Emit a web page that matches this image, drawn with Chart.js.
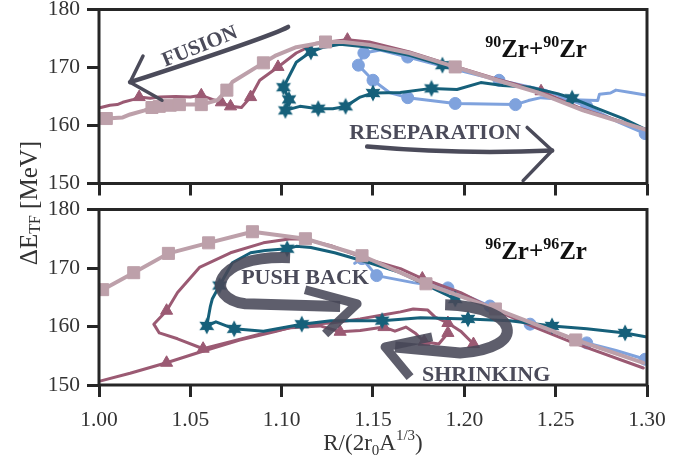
<!DOCTYPE html>
<html>
<head>
<meta charset="utf-8">
<script src="https://cdn.jsdelivr.net/npm/chart.js@4.4.1/dist/chart.umd.min.js"></script>
<style>
  html, body { margin: 0; padding: 0; background: #fff; }
  #wrap { position: relative; width: 696px; height: 459px; }
  #wrap canvas { position: absolute; left: 0; top: 0; }
</style>
</head>
<body>
<div id="wrap">
  <canvas id="panelTop" width="696" height="459"></canvas>
  <canvas id="panelBottom" width="696" height="459"></canvas>
</div>
<script>
// axis ticks
const X_TICKS = [1.00, 1.05, 1.10, 1.15, 1.20, 1.25, 1.30];
const Y_TICKS = [150, 160, 170, 180];

// 90Zr+90Zr trajectories
const sq90X = [1.004, 1.013, 1.017, 1.025, 1.029, 1.033, 1.039, 1.044, 1.056, 1.065, 1.070, 1.073, 1.090, 1.097, 1.108, 1.124, 1.134, 1.148, 1.170, 1.195, 1.218, 1.240, 1.265, 1.300];
const sq90Y = [161.2, 161.4, 161.9, 162.6, 163.1, 163.3, 163.5, 163.6, 163.6, 164.4, 166.1, 167.5, 170.8, 172.1, 173.5, 174.4, 174.4, 173.9, 172.5, 170.1, 167.8, 165.7, 162.6, 159.2];
const sq90Marks = [0, 4, 5, 6, 7, 8, 10, 12, 15, 19];

const tri90X = [1.001, 1.006, 1.010, 1.013, 1.019, 1.022, 1.028, 1.033, 1.042, 1.050, 1.056, 1.062, 1.067, 1.072, 1.078, 1.083, 1.088, 1.098, 1.108, 1.119, 1.136, 1.148, 1.170, 1.195, 1.218, 1.242, 1.265, 1.300];
const tri90Y = [163.1, 163.5, 163.6, 164.0, 164.5, 164.9, 164.7, 164.9, 165.0, 164.9, 165.2, 164.5, 164.0, 163.3, 163.1, 164.9, 167.8, 170.1, 172.5, 174.2, 174.8, 174.4, 172.7, 170.2, 168.0, 165.9, 162.8, 159.2];
const tri90Marks = [5, 10, 12, 13, 15, 17, 20, 25];

const star90X = [1.188, 1.170, 1.148, 1.132, 1.123, 1.116, 1.108, 1.101, 1.104, 1.102, 1.110, 1.120, 1.128, 1.135, 1.143, 1.150, 1.165, 1.182, 1.196, 1.209, 1.221, 1.236, 1.251, 1.259, 1.266, 1.273, 1.287, 1.298];
const star90Y = [170.4, 172.1, 173.5, 174.0, 173.5, 172.7, 170.9, 166.6, 164.5, 162.6, 163.3, 162.9, 162.9, 163.3, 164.9, 165.6, 165.7, 166.4, 166.2, 167.4, 166.9, 166.6, 165.5, 164.7, 163.8, 162.9, 161.2, 159.5];
const star90Marks = [0, 5, 7, 8, 9, 11, 13, 15, 17, 23];

const circ90X = [1.299, 1.285, 1.267, 1.244, 1.219, 1.192, 1.169, 1.154, 1.145, 1.142, 1.150, 1.159, 1.169, 1.195, 1.228, 1.235, 1.242, 1.255, 1.273, 1.274, 1.280, 1.283, 1.291, 1.300];
const circ90Y = [158.6, 160.5, 163.3, 166.1, 167.8, 169.9, 171.8, 173.0, 172.5, 170.4, 167.8, 165.7, 164.8, 163.8, 163.6, 164.3, 164.8, 164.5, 164.3, 165.4, 165.6, 166.1, 165.7, 165.2];
const circ90Marks = [0, 2, 4, 6, 8, 9, 10, 12, 13, 14];

// 96Zr+96Zr trajectories
const sq96X = [1.002, 1.019, 1.038, 1.060, 1.084, 1.113, 1.144, 1.179, 1.217, 1.261, 1.298];
const sq96Y = [166.3, 169.2, 172.5, 174.3, 176.2, 175.0, 172.1, 167.3, 163.0, 157.7, 153.8];
const sq96Marks = [0, 1, 2, 3, 4, 5, 6, 7, 8, 9];

// outer loop, coming in from large R
const triLoop96X = [1.298, 1.258, 1.239, 1.217, 1.198, 1.177, 1.165, 1.148, 1.127, 1.113, 1.105, 1.090, 1.072, 1.055, 1.043, 1.037, 1.030, 1.033, 1.043, 1.057, 1.072, 1.088, 1.105, 1.121, 1.132, 1.143, 1.156, 1.162, 1.168, 1.173, 1.178, 1.186, 1.191];
const triLoop96Y = [152.9, 157.4, 159.8, 162.8, 165.8, 168.2, 169.9, 171.4, 173.8, 174.9, 175.0, 174.3, 172.6, 170.1, 165.8, 162.7, 160.4, 158.9, 157.9, 156.2, 157.4, 158.7, 159.8, 160.1, 159.1, 159.3, 159.9, 159.2, 159.9, 158.9, 157.4, 157.0, 158.9];
const triLoop96Marks = [5, 15, 19, 24, 26, 30, 32];

// inner branch from R = 1.0
const triIn96X = [1.001, 1.017, 1.037, 1.055, 1.077, 1.097, 1.110, 1.127, 1.143, 1.156, 1.165, 1.172, 1.180, 1.184, 1.191, 1.198, 1.205];
const triIn96Y = [150.7, 152.0, 153.8, 155.6, 157.7, 159.2, 160.3, 160.6, 161.3, 162.0, 162.5, 163.0, 162.8, 161.6, 160.6, 159.2, 157.0];
const triIn96Marks = [2, 14, 16];

const star96X = [1.195, 1.179, 1.165, 1.148, 1.129, 1.116, 1.108, 1.103, 1.091, 1.083, 1.073, 1.066, 1.062, 1.061, 1.059, 1.064, 1.074, 1.090, 1.111, 1.127, 1.155, 1.176, 1.202, 1.225, 1.248, 1.267, 1.288, 1.300];
const star96Y = [164.7, 167.1, 169.2, 170.9, 172.6, 173.5, 173.7, 173.3, 173.0, 172.6, 170.9, 167.0, 164.7, 163.5, 160.1, 160.8, 159.6, 159.2, 160.4, 161.0, 161.0, 161.5, 161.3, 161.0, 160.1, 159.6, 158.9, 158.2];
const star96Marks = [0, 7, 11, 14, 16, 18, 20, 22, 24, 26];

const circ96X = [1.140, 1.144, 1.152, 1.172, 1.191, 1.214, 1.236, 1.267, 1.283, 1.299];
const circ96Y = [170.8, 171.6, 168.7, 167.5, 166.6, 163.5, 160.4, 157.2, 155.9, 154.4];
const circ96Marks = [1, 2, 4, 5, 6, 7, 9];

const TEAL = '#16607a', SKY = '#7fa2dd', PLUM = '#9b5a73', ROSE = '#bda0aa';
const INK = '#4b4b5a', AXIS = '#262626', SERIF = '"Liberation Serif", "Times New Roman", serif';
const PLOT_LEFT = 99, PLOT_RIGHT = 647;

function starImage(color) {
  const c = document.createElement('canvas');
  c.width = c.height = 18;
  const g = c.getContext('2d');
  g.fillStyle = color;
  g.beginPath();
  for (let i = 0; i < 12; i++) {
    const r = i % 2 ? 4.6 : 8.6;
    const a = -Math.PI / 2 + i * Math.PI / 6;
    g.lineTo(9 + r * Math.cos(a), 9 + r * Math.sin(a));
  }
  g.closePath();
  g.fill();
  return c;
}
const STAR = starImage(TEAL);

function series(xs, ys, marks, color, style, radius, width) {
  return {
    data: xs.map((x, i) => ({ x, y: ys[i] })),
    showLine: true,
    borderColor: color,
    backgroundColor: color,
    borderWidth: width,
    borderJoinStyle: 'round',
    borderCapStyle: 'round',
    tension: 0,
    pointStyle: style,
    pointRadius: ctx => marks.includes(ctx.dataIndex) ? radius : 0,
    pointBorderWidth: 1,
    pointBorderColor: color,
    pointBackgroundColor: color,
  };
}

function rich(ctx, x, y, parts, align) {
  // parts: [text, size, rise, bold]
  const fontOf = p => `${p[3] ? 'bold ' : ''}${p[1]}px ${SERIF}`;
  let w = 0;
  parts.forEach(p => { ctx.font = fontOf(p); w += ctx.measureText(p[0]).width; });
  let cx = align === 'center' ? x - w / 2 : x;
  ctx.textAlign = 'left';
  parts.forEach(p => {
    ctx.font = fontOf(p);
    ctx.fillText(p[0], cx, y - p[2]);
    cx += ctx.measureText(p[0]).width;
  });
}

function pixelFn(chart) {
  const xs = chart.scales.x, ys = chart.scales.y;
  return (u, v) => [xs.getPixelForValue(u), ys.getPixelForValue(v)];
}

function strokeLines(ctx, pts) {
  ctx.beginPath();
  ctx.moveTo(pts[0][0], pts[0][1]);
  pts.slice(1).forEach(q => ctx.lineTo(q[0], q[1]));
  ctx.stroke();
}

function notesTop(chart) {
  const ctx = chart.ctx, p = pixelFn(chart);
  ctx.save();
  ctx.fillStyle = INK;
  ctx.strokeStyle = INK;
  ctx.lineCap = 'round';
  ctx.lineJoin = 'round';

  // FUSION arrow pointing to small R
  let a = p(1.1035, 177.0), c = p(1.0936, 175.3), t = p(1.0170, 167.47);
  ctx.lineWidth = 4.5;
  ctx.beginPath(); ctx.moveTo(a[0], a[1]); ctx.quadraticCurveTo(c[0], c[1], t[0], t[1]); ctx.stroke();
  ctx.lineWidth = 3.5;
  strokeLines(ctx, [p(1.0241, 171.97), t, p(1.0345, 164.35)]);
  const f = p(1.0553, 173.54);
  ctx.save();
  ctx.translate(f[0], f[1]);
  ctx.rotate(-22 * Math.PI / 180);
  ctx.textBaseline = 'middle';
  rich(ctx, 0, 0, [['FUSION', 21, 0, true]], 'center');
  ctx.restore();

  // RESEPARATION arrow pointing to large R
  ctx.textBaseline = 'middle';
  const r = p(1.1840, 158.63);
  rich(ctx, r[0], r[1], [['RESEPARATION', 22, 0, true]], 'center');
  a = p(1.1468, 156.36); c = p(1.1977, 154.97); t = p(1.2481, 155.68);
  ctx.lineWidth = 4.5;
  ctx.beginPath(); ctx.moveTo(a[0], a[1]); ctx.quadraticCurveTo(c[0], c[1], t[0], t[1]); ctx.stroke();
  ctx.lineWidth = 3.5;
  strokeLines(ctx, [p(1.2344, 159.67), t, p(1.2322, 150.49)]);

  ctx.fillStyle = '#111';
  ctx.textBaseline = 'alphabetic';
  const l = p(1.2114, 171.8);
  rich(ctx, l[0], l[1], [['90', 16, 10, true], ['Zr+', 25, 0, true], ['90', 16, 10, true], ['Zr', 25, 0, true]]);
  ctx.restore();
}

function notesBottom(chart) {
  const ctx = chart.ctx, p = pixelFn(chart);
  ctx.save();
  ctx.fillStyle = INK;
  ctx.textBaseline = 'middle';
  let q = p(1.1128, 168.16);
  rich(ctx, q[0], q[1], [['PUSH BACK', 22, 0, true]], 'center');
  q = p(1.2119, 151.70);
  rich(ctx, q[0], q[1], [['SHRINKING', 22, 0, true]], 'center');

  ctx.strokeStyle = 'rgba(72, 72, 88, 0.88)';
  ctx.lineCap = 'butt';
  ctx.lineJoin = 'round';

  // PUSH BACK: C-shaped sweep ending in an arrowhead to the right
  let s0 = p(1.1046, 171.77), s1 = p(1.0608, 172.28), s2 = p(1.0581, 164.73), s3 = p(1.0800, 163.88);
  let s4 = p(1.1320, 163.40), tip = p(1.1413, 163.88);
  ctx.lineWidth = 11;
  ctx.beginPath();
  ctx.moveTo(s0[0], s0[1]);
  ctx.bezierCurveTo(s1[0], s1[1], s2[0], s2[1], s3[0], s3[1]);
  ctx.lineTo(s4[0], s4[1]);
  ctx.stroke();
  ctx.lineWidth = 9;
  strokeLines(ctx, [p(1.1128, 166.28), tip, p(1.1238, 158.73)]);

  // SHRINKING: sweep around to the left
  s0 = p(1.1895, 163.70); s1 = p(1.2317, 163.36); s2 = p(1.2349, 156.16); s3 = p(1.1977, 155.47);
  tip = p(1.1566, 156.50);
  ctx.lineWidth = 11;
  ctx.beginPath();
  ctx.moveTo(s0[0], s0[1]);
  ctx.bezierCurveTo(s1[0], s1[1], s2[0], s2[1], s3[0], s3[1]);
  ctx.lineTo(tip[0] + 10, tip[1]);
  ctx.stroke();
  ctx.lineWidth = 9;
  strokeLines(ctx, [p(1.1824, 158.21), tip, p(1.1703, 151.35)]);

  ctx.fillStyle = '#111';
  ctx.textBaseline = 'alphabetic';
  q = p(1.2114, 171.6);
  rich(ctx, q[0], q[1], [['96', 16, 10, true], ['Zr+', 25, 0, true], ['96', 16, 10, true], ['Zr', 25, 0, true]]);

  // axis titles
  ctx.fillStyle = '#333';
  rich(ctx, (PLOT_LEFT + PLOT_RIGHT) / 2, 450, [['R/(2r', 23, 0], ['0', 15, -5], ['A', 23, 0], ['1/3', 15, 10], [')', 23, 0]], 'center');
  ctx.save();
  ctx.translate(30, 203);
  ctx.rotate(-Math.PI / 2);
  ctx.textBaseline = 'middle';
  rich(ctx, 0, 0, [['\u0394E', 25, 0], ['TF', 16, -6], [' [MeV]', 25, 0]], 'center');
  ctx.restore();
  ctx.restore();
}

const framePlugin = {
  id: 'frame',
  afterDraw(chart) {
    const { ctx, chartArea: a } = chart;
    ctx.save();
    ctx.strokeStyle = AXIS;
    ctx.lineWidth = 3;
    ctx.strokeRect(a.left, a.top, a.right - a.left, a.bottom - a.top);
    ctx.restore();
  }
};

function makePanel(id, datasets, top, bottom, axisH, showX, notes) {
  const tickFont = { family: SERIF, size: 21.5 };
  return new Chart(document.getElementById(id), {
    type: 'scatter',
    data: { datasets },
    options: {
      responsive: false,
      animation: false,
      events: [],
      layout: { padding: { left: 0, right: 696 - PLOT_RIGHT, top, bottom: 459 - bottom - axisH } },
      plugins: { legend: { display: false }, tooltip: { enabled: false } },
      scales: {
        x: {
          type: 'linear', min: 1.0, max: 1.3,
          afterBuildTicks: s => { s.ticks = X_TICKS.map(value => ({ value })); },
          afterFit: s => { s.height = axisH; s.paddingLeft = 0; s.paddingRight = 0; },
          ticks: { autoSkip: false, maxRotation: 0, padding: 10, font: tickFont, color: showX ? '#333' : 'rgba(0,0,0,0)', callback: v => v.toFixed(2) },
          grid: { drawOnChartArea: false, drawTicks: true, tickLength: 12, tickWidth: 3, tickColor: AXIS },
          border: { display: false },
        },
        y: {
          type: 'linear', min: 150, max: 180,
          afterBuildTicks: s => { s.ticks = Y_TICKS.map(value => ({ value })); },
          afterFit: s => { s.width = PLOT_LEFT; s.paddingTop = 0; s.paddingBottom = 0; },
          ticks: { padding: 7, font: tickFont, color: '#333' },
          grid: { drawOnChartArea: false, drawTicks: true, tickLength: 12, tickWidth: 3, tickColor: AXIS },
          border: { display: false },
        },
      },
    },
    plugins: [{ id: 'notes', afterDatasetsDraw: notes }, framePlugin],
  });
}

makePanel('panelTop', [
  series(sq90X, sq90Y, sq90Marks, ROSE, 'rect', 8.5, 4),
  series(star90X, star90Y, star90Marks, TEAL, STAR, 8, 3),
  series(tri90X, tri90Y, tri90Marks, PLUM, 'triangle', 7, 3),
  series(circ90X, circ90Y, circ90Marks, SKY, 'circle', 6, 3),
], 9, 183.5, 20, false, notesTop);

makePanel('panelBottom', [
  series(sq96X, sq96Y, sq96Marks, ROSE, 'rect', 8.5, 4),
  series(star96X, star96Y, star96Marks, TEAL, STAR, 8, 3),
  series(triLoop96X, triLoop96Y, triLoop96Marks, PLUM, 'triangle', 7, 3),
  series(triIn96X, triIn96Y, triIn96Marks, PLUM, 'triangle', 7, 3),
  series(circ96X, circ96Y, circ96Marks, SKY, 'circle', 6, 3),
], 209.5, 385, 50, true, notesBottom);
</script>
</body>
</html>
